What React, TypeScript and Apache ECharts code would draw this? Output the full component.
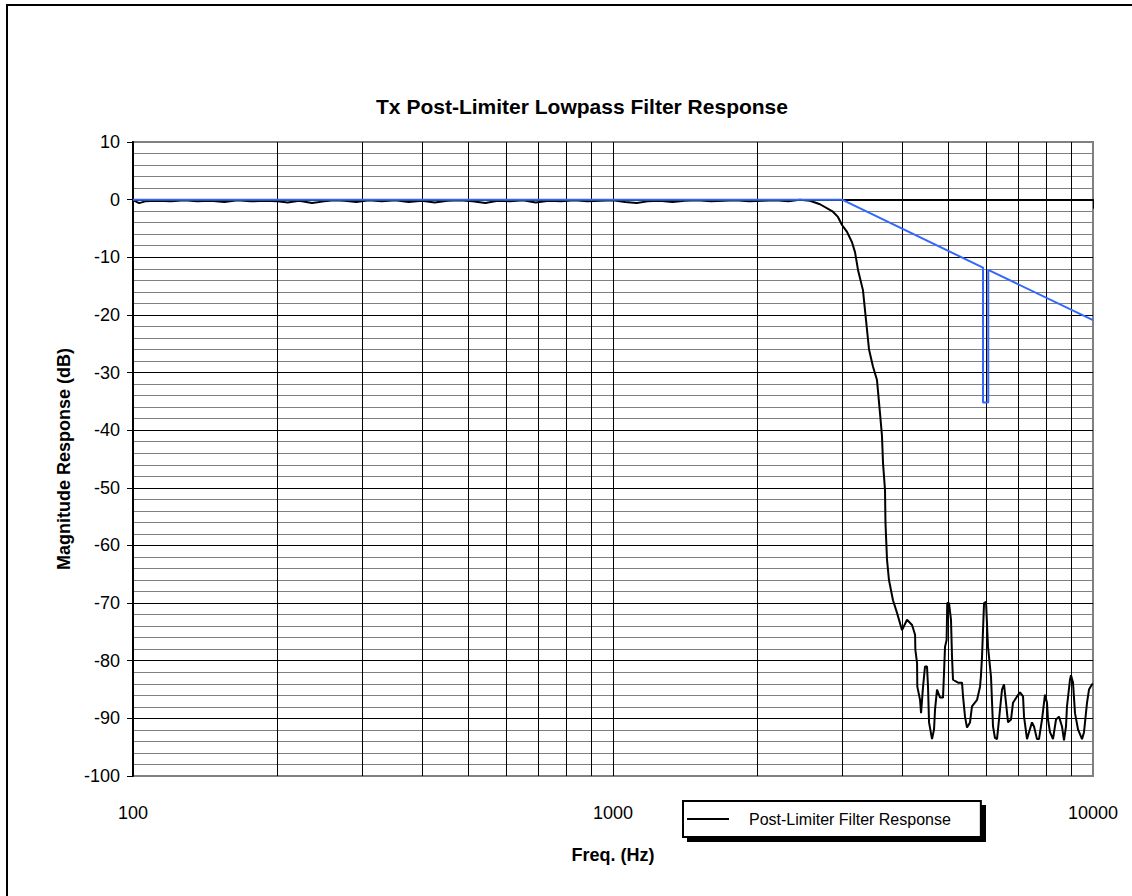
import React, { useEffect, useRef } from "react";
import * as echarts from "echarts";

// Measured filter response (Hz, dB)
const responseFreq = [
  100, 103, 106, 112, 120, 128, 136, 145, 155, 165, 176, 188, 200, 210, 222, 236, 250, 262, 276, 292,
  310, 330, 352, 375, 400, 425, 452, 480, 510, 542, 575, 610, 650, 690, 735, 780, 830, 885, 940, 1000,
  1060, 1120, 1180, 1250, 1330, 1410, 1500, 1600, 1700, 1800, 1920, 2050, 2180, 2320, 2450, 2573, 2699,
  2872, 2942, 3000, 3073, 3147, 3193, 3239, 3317, 3366, 3415, 3481, 3548, 3599, 3634, 3652, 3687, 3695,
  3723, 3758, 3831, 3906, 4001, 4098, 4198, 4259, 4265, 4300, 4305, 4362, 4383, 4425, 4467, 4510, 4532,
  4554, 4620, 4665, 4687, 4732, 4801, 4870, 4894, 4917, 4955, 4970, 5012, 5060, 5085, 5109, 5234, 5335,
  5361, 5412, 5464, 5543, 5596, 5733, 5816, 5840, 5872, 5929, 5986, 6043, 6131, 6190, 6249, 6310, 6371,
  6463, 6525, 6588, 6652, 6748, 6813, 6946, 7047, 7149, 7183, 7287, 7356, 7463, 7535, 7644, 7718, 7830,
  7943, 8020, 8058, 8136, 8254, 8374, 8495, 8618, 8701, 8785, 8827, 8955, 8998, 9085, 9173, 9306, 9487,
  9578, 9716, 9810, 9954, 10000,
];
const responseDb = [
  -0.1, -0.6, -0.3, -0.2, -0.3, -0.1, -0.3, -0.2, -0.4, -0.1, -0.3, -0.2, -0.3, -0.5, -0.2, -0.6, -0.3, -0.1, -0.2, -0.4,
  -0.1, -0.3, -0.1, -0.4, -0.2, -0.5, -0.2, -0.1, -0.3, -0.6, -0.2, -0.3, -0.1, -0.5, -0.2, -0.3, -0.1, -0.3, -0.2, -0.1,
  -0.4, -0.6, -0.3, -0.2, -0.4, -0.2, -0.1, -0.3, -0.2, -0.1, -0.3, -0.2, -0.1, -0.3, 0, -0.2, -0.8,
  -2.1, -3.0, -4.4, -5.6, -7.4, -9.1, -12.2, -15.7, -20.9, -26, -29, -31.3, -37, -41, -45.7, -50.4, -56,
  -62.5, -66, -69.5, -71.7, -74.7, -72.9, -73.8, -75.5, -78.1, -80.4, -84.5, -86.8, -89.1, -84.5, -81, -81, -84.5,
  -90.7, -93.6, -91.9, -88.5, -85, -86.4, -86.4, -82, -77.6, -76.4, -70, -70, -72.9, -79.3, -83.3, -83.8, -83.8,
  -86.2, -89.7, -91.6, -90.7, -87.9, -86.8, -84.5, -82.8, -79.3, -70, -69.8, -77.6, -82.8, -91.4, -93.4, -93.6, -90.2,
  -85, -84.1, -87.3, -90.7, -90.2, -87.3, -86.2, -85.5, -86.2, -89.7, -93.6, -92.4, -90.7, -91.4, -93.6, -93.6, -90.2,
  -85.9, -87.3, -90.2, -92.4, -93.6, -90.2, -89.7, -91.4, -93.8, -91.4, -87.9, -83.3, -82.5, -83.8, -89.1, -91.9, -93.6,
  -92.4, -87.3, -85, -84.1, -84,
];

// Spec mask (Hz, dB)
const maskFreq = [100, 3000, 5900, 5900, 6050, 6050, 10000];
const maskDb = [0, 0, -11.8, -35.2, -35.2, -12.2, -20.9];

// Axis ticks / grid
const yTicks = { min: -100, max: 10, interval: 10 };
const xMinorGrid = [200, 300, 400, 500, 600, 700, 800, 900, 2000, 3000, 4000, 5000, 6000, 7000, 8000, 9000];

const titleText = "Tx Post-Limiter Lowpass Filter Response";
const seriesName = "Post-Limiter Filter Response";
const FONT = "'Liberation Sans', Arial, sans-serif";

export default function App() {
  const ref = useRef<HTMLDivElement>(null);
  useEffect(() => {
    if (!ref.current) return;
    const chart = echarts.init(ref.current, undefined, { renderer: "svg" });
    const response = responseFreq.map((f, i) => [f, responseDb[i]]);
    const mask = maskFreq.map((f, i) => [f, maskDb[i]]);
    chart.setOption({
      animation: false,
      backgroundColor: "#fff",
      textStyle: { fontFamily: FONT },
      title: {
        text: titleText,
        left: 582,
        textAlign: "center",
        top: 96,
        padding: 0,
        textStyle: { fontFamily: FONT, fontSize: 21, fontWeight: "bold", color: "#000" },
      },
      grid: {
        left: 133,
        top: 142,
        right: 39,
        bottom: 120,
        show: true,
        borderColor: "#808080",
        borderWidth: 2,
        backgroundColor: "transparent",
      },
      legend: {
        data: [seriesName],
        left: 683,
        top: 801,
        orient: "horizontal",
        selectedMode: false,
        backgroundColor: "#fff",
        borderColor: "#000",
        borderWidth: 2,
        borderRadius: 0,
        padding: [10, 30, 10, 4],
        itemWidth: 42,
        itemHeight: 2,
        icon: "rect",
        z: 10,
        textStyle: { fontFamily: FONT, fontSize: 16, color: "#000", padding: [0, 0, 0, 15] },
      },
      graphic: [
        {
          type: "rect",
          z: 1,
          silent: true,
          shape: { x: 7, y: 5, width: 1200, height: 1000 },
          style: { fill: "none", stroke: "#000", lineWidth: 2 },
        },
        {
          type: "rect",
          z: 5,
          silent: true,
          shape: { x: 687, y: 805, width: 299, height: 37 },
          style: { fill: "#000" },
        },
      ],
      xAxis: {
        type: "log",
        min: 100,
        max: 10000,
        logBase: 10,
        name: "Freq. (Hz)",
        nameLocation: "middle",
        nameGap: 70,
        nameTextStyle: { fontFamily: FONT, fontSize: 18, fontWeight: "bold", color: "#000" },
        axisLine: { show: true, lineStyle: { color: "#000", width: 2 } },
        axisTick: { show: true, length: 9, lineStyle: { color: "#000", width: 1 } },
        axisLabel: {
          margin: 28,
          fontFamily: FONT,
          fontSize: 18,
          color: "#000",
          formatter: (v: number) => String(Math.round(v)),
        },
        splitLine: { show: true, showMinLine: false, showMaxLine: false, lineStyle: { color: "#000", width: 1 } },
        minorSplitLine: { show: false },
      },
      yAxis: {
        type: "value",
        min: yTicks.min,
        max: yTicks.max,
        interval: yTicks.interval,
        name: "Magnitude Response (dB)",
        nameLocation: "middle",
        nameGap: 60,
        nameTextStyle: { fontFamily: FONT, fontSize: 18, fontWeight: "bold", color: "#000" },
        axisLine: { show: true, lineStyle: { color: "#000", width: 2 } },
        axisTick: { show: true, length: 6, lineStyle: { color: "#000", width: 1 } },
        axisLabel: { margin: 13, fontFamily: FONT, fontSize: 18, color: "#000" },
        splitLine: { show: true, showMinLine: false, showMaxLine: false, lineStyle: { color: "#000", width: 1 } },
        minorTick: { show: false, splitNumber: 5 },
        minorSplitLine: { show: true, lineStyle: { color: "#808080", width: 1 } },
      },
      series: [
        {
          name: "grid",
          type: "line",
          data: [],
          silent: true,
          markLine: {
            silent: true,
            z: 1,
            symbol: "none",
            label: { show: false },
            lineStyle: { color: "#000", width: 1, type: "solid" },
            data: xMinorGrid.map((f) => ({ xAxis: f })),
          },
        },
        {
          name: seriesName,
          type: "line",
          data: response,
          showSymbol: false,
          symbol: "none",
          z: 3,
          lineStyle: { color: "#000", width: 2 },
          itemStyle: { color: "#000" },
        },
        {
          name: "Mask",
          type: "line",
          data: mask,
          showSymbol: false,
          symbol: "none",
          z: 4,
          lineStyle: { color: "#3366ff", width: 2 },
          itemStyle: { color: "#3366ff" },
        },
      ],
    });
    return () => chart.dispose();
  }, []);
  return (
    <div
      ref={ref}
      style={{ position: "absolute", left: 0, top: 0, width: 1132, height: 896 }}
    />
  );
}
